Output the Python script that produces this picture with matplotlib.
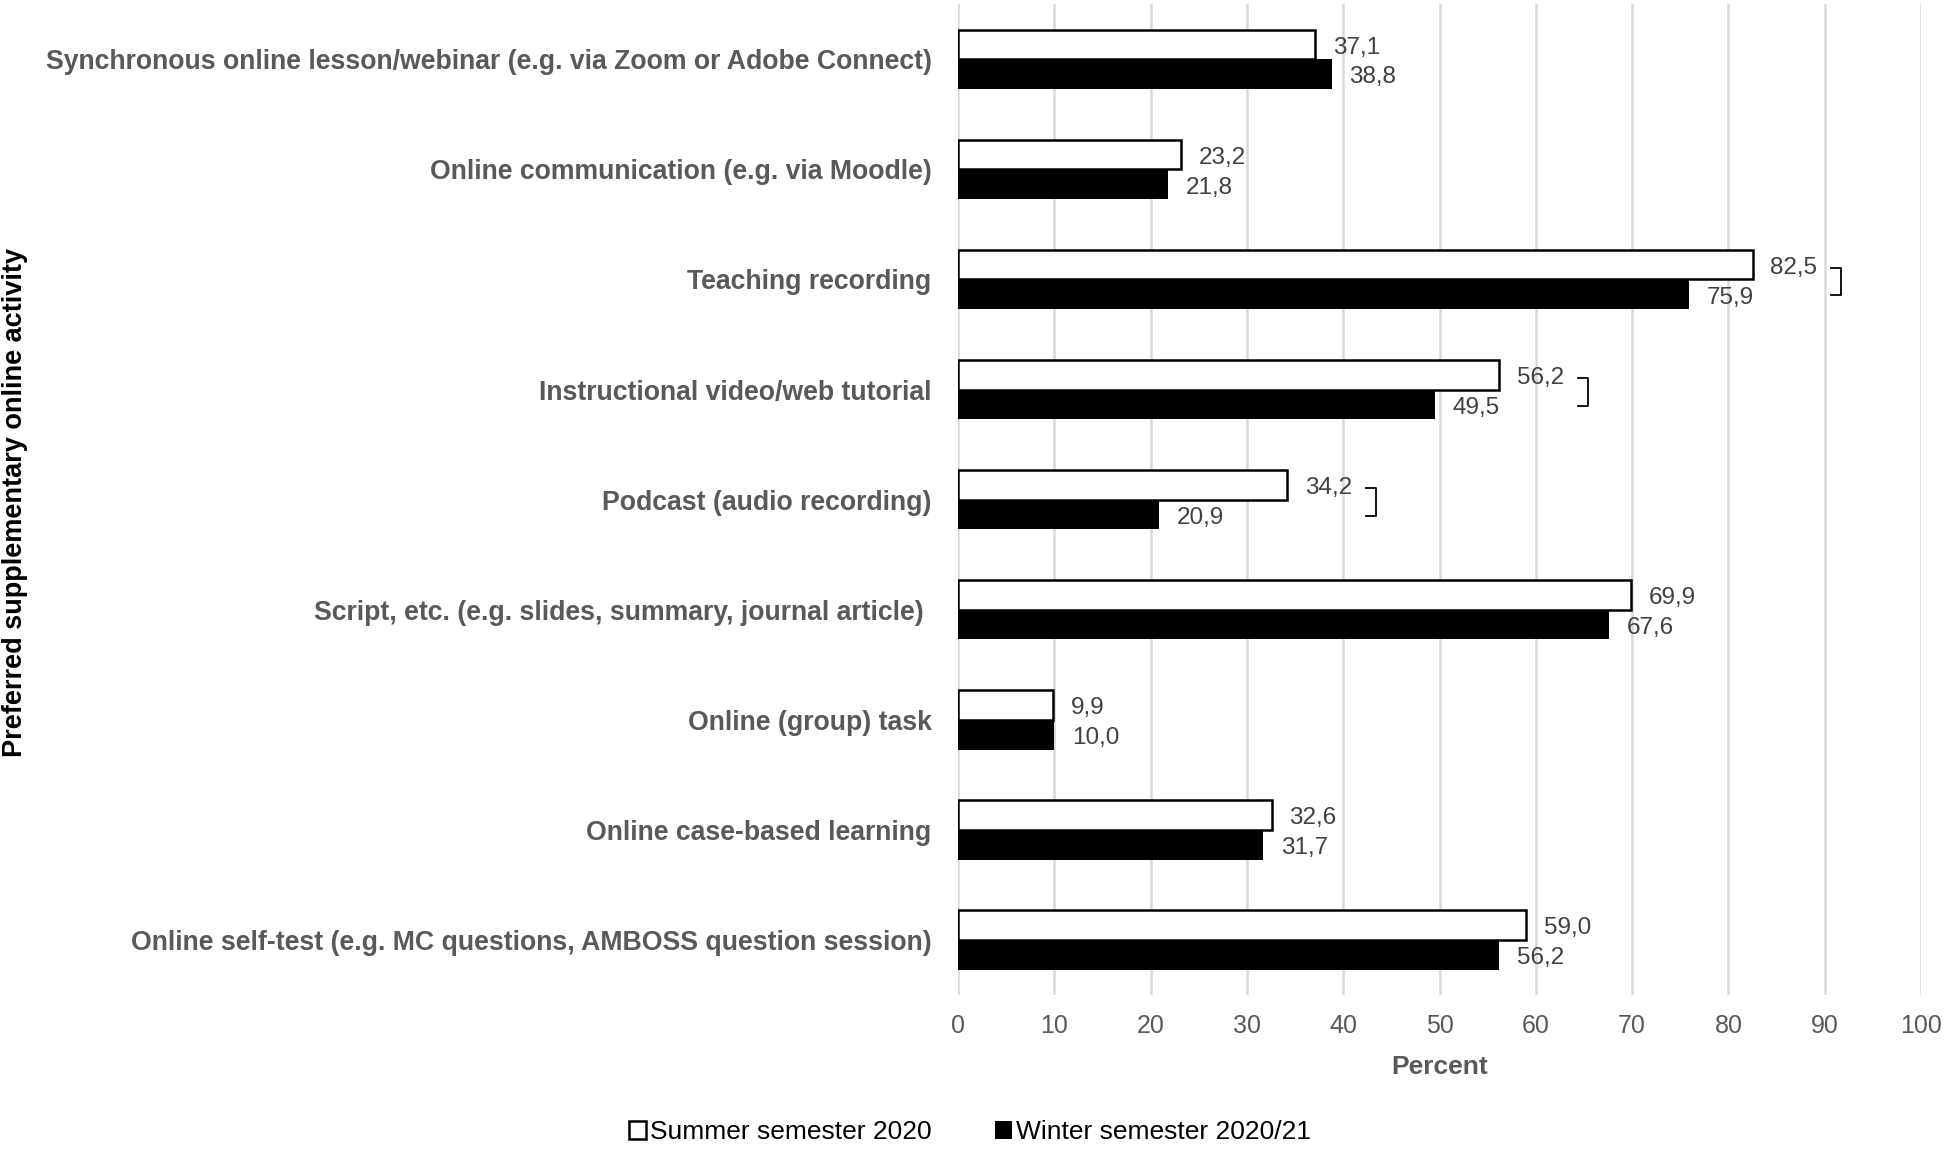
import matplotlib
matplotlib.use('Agg')
import matplotlib.pyplot as plt
from matplotlib import font_manager
import numpy as np

# fonte condensada (tipo Helvetica Narrow) se existir
nomes = set(f.name for f in font_manager.fontManager.ttflist)
narrow = 'Liberation Sans Narrow' if 'Liberation Sans Narrow' in nomes else 'Liberation Sans'

categorias = [
    'Synchronous online lesson/webinar (e.g. via Zoom or Adobe Connect)',
    'Online communication (e.g. via Moodle)',
    'Teaching recording',
    'Instructional video/web tutorial',
    'Podcast (audio recording)',
    'Script, etc. (e.g. slides, summary, journal article) ',
    'Online (group) task',
    'Online case-based learning',
    'Online self-test (e.g. MC questions, AMBOSS question session)',
]
verao = [37.1, 23.2, 82.5, 56.2, 34.2, 69.9, 9.9, 32.6, 59.0]
inverno = [38.8, 21.8, 75.9, 49.5, 20.9, 67.6, 10.0, 31.7, 56.2]
# categorias com diferença marcada (colchete)
marcadas = [2, 3, 4]

cinza = '#595959'
y = np.arange(len(categorias))
h = 0.27

fig = plt.figure(figsize=(19.44, 11.52), dpi=100)
ax = fig.add_axes([0.4928, 0.1363, 0.4954, 0.8600])

ax.barh(y - h / 2, verao, height=h, color='white', edgecolor='black', linewidth=1.8,
        label='Summer semester 2020', zorder=3)
ax.barh(y + h / 2, inverno, height=h, color='black', edgecolor='black', linewidth=0,
        label='Winter semester 2020/21', zorder=3)

for i in y:
    ax.text(verao[i] + 1.8, i - h / 2 + 0.03, f'{verao[i]:.1f}'.replace('.', ','),
            va='center', ha='left', fontsize=17.5, family=narrow, color='#404040')
    ax.text(inverno[i] + 1.8, i + h / 2 + 0.03, f'{inverno[i]:.1f}'.replace('.', ','),
            va='center', ha='left', fontsize=17.5, family=narrow, color='#404040')

for i in marcadas:
    xb = verao[i] + 9.2
    y0, y1 = i - h / 2 + 0.03, i + h / 2 + 0.01
    ax.plot([xb - 1.0, xb, xb, xb - 1.0], [y0, y0, y1, y1],
            color='black', linewidth=1.3, zorder=4)

ax.set_xlim(0, 100)
ax.set_ylim(len(categorias) - 0.5, -0.5)
ax.set_xticks(np.arange(0, 101, 10))
ax.set_yticks(y)
ax.set_yticklabels(categorias, fontsize=19.2, fontweight='bold', family=narrow, color=cinza)
ax.tick_params(axis='y', length=0, pad=19)
ax.tick_params(axis='x', length=0, pad=14, labelsize=18, labelcolor=cinza)
for lab in ax.get_xticklabels():
    lab.set_family(narrow)
ax.grid(axis='x', color='#d9d9d9', linewidth=1.8, zorder=0)
for s in ax.spines.values():
    s.set_visible(False)

ax.set_xlabel('Percent', fontsize=19, fontweight='bold', family=narrow, color=cinza, labelpad=12)
fig.text(0.001, 0.564, 'Preferred supplementary online activity', rotation=90, ha='left', va='center',
         fontsize=19.5, fontweight='bold', family='Liberation Sans', color='black')

fig.legend(loc='lower center', bbox_to_anchor=(0.499, -0.014), ncol=2, frameon=False,
           prop={'family': narrow, 'size': 19}, handlelength=0.65, handleheight=0.65,
           handletextpad=0.15, columnspacing=2.4)

fig.savefig('out.png', dpi=100)
